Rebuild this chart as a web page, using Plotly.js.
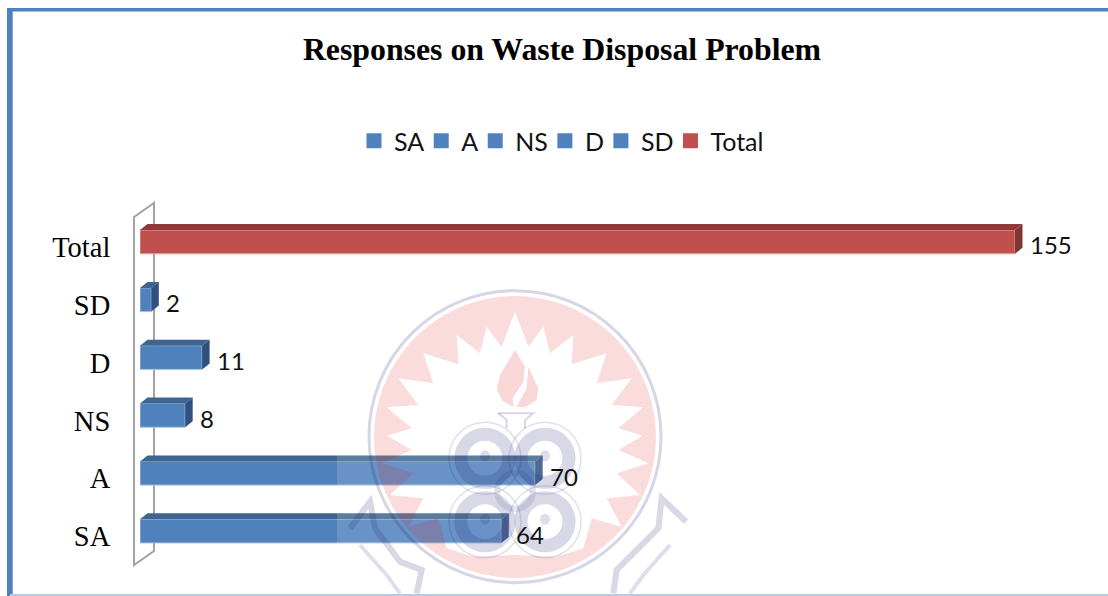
<!DOCTYPE html>
<html>
<head>
<meta charset="utf-8">
<script src="https://cdn.plot.ly/plotly-3.0.1.min.js"></script>
<style>html,body{margin:0;padding:0;background:#fff;overflow:hidden}#chart{width:1108px;height:596px}</style>
</head>
<body>
<div id="chart"></div>
<script>
// ---- data ----
const categories = ['SA', 'A', 'NS', 'D', 'SD', 'Total'];
const values = [64, 70, 8, 11, 2, 155];
const frontColors = ['#4F81BD', '#4F81BD', '#4F81BD', '#4F81BD', '#4F81BD', '#C0504D'];
const topColors = ['#3E658F', '#3E658F', '#3E658F', '#3E658F', '#3E658F', '#8F3A38'];
const sideColors = ['#2F5080', '#2F5080', '#2F5080', '#2F5080', '#2F5080', '#7F3533'];
const edgeColors = ['#A9C3E3', '#A9C3E3', '#A9C3E3', '#A9C3E3', '#A9C3E3', '#E0A5A3'];

// ---- geometry ----
const W = 1108, H = 596;
const M = {l: 140, r: 0, t: 213, b: 36};
const PW = W - M.l - M.r, PH = H - M.t - M.b;
const pxPerUnit = 875 / 155;
const xMax = PW / pxPerUnit;
const pxPerCat = PH / categories.length;
const barWidth = 0.41;
const depthX = 7.5 / pxPerUnit, depthY = 6 / pxPerCat;

const traces = [];
// legend keys: same names and colours, drawn only in the legend
categories.forEach((c, i) => {
  traces.push({
    type: 'bar', orientation: 'h', name: c, x: [null], y: [null], showlegend: true,
    marker: {color: frontColors[i], line: {color: frontColors[i], width: 3}},
    hoverinfo: 'skip'
  });
});
categories.forEach((c, i) => {
  traces.push({
    type: 'bar', orientation: 'h', name: c, x: [values[i]], y: [i], width: barWidth, showlegend: false,
    marker: {color: frontColors[i], line: {color: edgeColors[i], width: 1}},
    hoverinfo: 'skip'
  });
});
categories.forEach((c, i) => {
  const v = values[i], t = i + barWidth / 2, b = i - barWidth / 2;
  traces.push({
    type: 'scatter', mode: 'lines', showlegend: false, hoverinfo: 'skip', fill: 'toself',
    x: [0, v, v + depthX, depthX, 0], y: [t, t, t + depthY, t + depthY, t],
    fillcolor: topColors[i], line: {width: 0}
  });
  traces.push({
    type: 'scatter', mode: 'lines', showlegend: false, hoverinfo: 'skip', fill: 'toself',
    x: [v, v + depthX, v + depthX, v, v], y: [t, t + depthY, b + depthY, b, t],
    fillcolor: sideColors[i], line: {width: 0}
  });
});

const annotations = categories.map((c, i) => ({
  x: values[i], y: i, xref: 'x', yref: 'y', text: String(values[i]), showarrow: false,
  xanchor: 'left', yanchor: 'middle', xshift: 13, yshift: -3,
  font: {family: 'Lato, sans-serif', size: 24, color: '#111'}
}));

// ---- page pixels to paper fractions ----
const px = x => (x - M.l) / PW;
const py = y => (H - M.b - y) / PH;
const path = pts => pts.map((p, i) => (i ? 'L' : 'M') + px(p[0]).toFixed(5) + ',' + py(p[1]).toFixed(5)).join(' ') + ' Z';
const open = pts => pts.map((p, i) => (i ? 'L' : 'M') + px(p[0]).toFixed(5) + ',' + py(p[1]).toFixed(5)).join(' ');
const wm = p => [350 + p[0] / 3, 285 + p[1] / 3];

// ---- chart wall and page frame ----
const GREY = '#A3A3A3';
const shapes = [
  {type: 'path', xref: 'paper', yref: 'paper', layer: 'below', path: path([[134, 217], [154, 203], [154, 551], [134, 565]]),
   line: {color: GREY, width: 2}, fillcolor: 'rgba(0,0,0,0)'},
  {type: 'rect', xref: 'paper', yref: 'paper', layer: 'above', x0: px(7), x1: px(12.7), y0: py(8), y1: py(596), fillcolor: '#4F81BD', line: {width: 0}},
  {type: 'rect', xref: 'paper', yref: 'paper', layer: 'above', x0: px(7), x1: px(1108), y0: py(8), y1: py(11.5), fillcolor: '#4F81BD', line: {width: 0}},
  {type: 'line', xref: 'paper', yref: 'paper', layer: 'above', x0: px(10), x1: px(1108), y0: py(595), y1: py(595), line: {color: '#B5CBE6', width: 2}}
];

// ---- translucent crest over the chart ----
const RED = 'rgb(226,5,5)', INK = 'rgb(20,20,110)';
shapes.push({type: 'rect', xref: 'paper', yref: 'paper', layer: 'above', x0: px(337), x1: px(690), y0: py(285), y1: py(594),
  fillcolor: '#fff', opacity: 0.15, line: {width: 0}});
const cx = 515, cy = 437, rDisc = 141;
const disc = [];
for (let a = 0; a < 360; a += 5) disc.push([cx + rDisc * Math.cos(a * Math.PI / 180), cy + rDisc * Math.sin(a * Math.PI / 180)]);
const starRight = [[495, 80], [535, 185], [580, 125], [600, 205], [670, 150], [665, 238], [770, 205], [740, 295], [845, 280], [785, 360],
  [880, 367], [805, 430], [878, 452], [805, 495], [895, 535], [800, 565], [870, 630], [770, 640], [815, 725], [725, 700], [700, 790], [620, 815], [495, 810]];
const starLeft = starRight.slice(1, -1).reverse().map(p => [990 - p[0], p[1]]);
const star = starRight.concat(starLeft).map(wm);
shapes.push({type: 'path', xref: 'paper', yref: 'paper', layer: 'above', fillrule: 'evenodd',
  path: path(disc) + ' ' + path(star), fillcolor: RED, opacity: 0.14, line: {width: 0}});
// flame
[[[495, 195], [450, 270], [440, 315], [460, 350], [490, 365], [488, 340], [520, 290], [525, 245]],
 [[535, 245], [565, 310], [560, 345], [525, 367], [500, 365], [530, 310]]].forEach(f => {
  shapes.push({type: 'path', xref: 'paper', yref: 'paper', layer: 'above', path: path(f.map(wm)), fillcolor: RED, opacity: 0.16, line: {width: 0}});
});
const inkLine = (pts, w, o) => shapes.push({type: 'path', xref: 'paper', yref: 'paper', layer: 'above', path: open(pts.map(wm)),
  line: {color: INK, width: w}, opacity: o, fillcolor: 'rgba(0,0,0,0)'});
const inkRing = (zx, zy, r, w, o) => {
  const c = wm([zx, zy]);
  shapes.push({type: 'circle', xref: 'paper', yref: 'paper', layer: 'above', x0: px(c[0] - r), x1: px(c[0] + r), y0: py(c[1] - r), y1: py(c[1] + r),
    line: {color: INK, width: w}, opacity: o, fillcolor: 'rgba(0,0,0,0)'});
};
inkRing(495, 455, 146, 3, 0.17);
[[405, 520], [585, 520], [405, 710], [585, 710]].forEach(c => {
  inkRing(c[0], c[1], 24, 13, 0.16);
  inkRing(c[0], c[1], 36, 1.5, 0.12);
  const k = wm(c);
  shapes.push({type: 'circle', xref: 'paper', yref: 'paper', layer: 'above', x0: px(k[0] - 5), x1: px(k[0] + 5), y0: py(k[1] - 8), y1: py(k[1] + 3), fillcolor: INK, opacity: 0.14, line: {width: 0}});
});
inkRing(495, 618, 18, 6, 0.1);
inkLine([[445, 385], [550, 385], [525, 405], [525, 430]], 2, 0.16);
inkLine([[445, 385], [470, 405], [470, 430]], 2, 0.16);
inkLine([[0, 730], [60, 650], [75, 730], [150, 830], [215, 855], [200, 925]], 6, 0.16);
inkLine([[1008, 710], [935, 640], [925, 730], [800, 855], [790, 925]], 6, 0.16);
inkLine([[30, 780], [110, 870], [150, 925]], 4, 0.13);
inkLine([[960, 780], [880, 870], [840, 925]], 4, 0.13);

const layout = {
  width: W, height: H, margin: M, paper_bgcolor: '#fff', plot_bgcolor: 'rgba(0,0,0,0)',
  barmode: 'overlay', hovermode: false, showlegend: true,
  title: {text: 'Responses on Waste Disposal Problem', xref: 'container', yref: 'container', x: 562 / W, y: 1 - 49 / H,
    xanchor: 'center', yanchor: 'middle', font: {family: '"Liberation Serif", serif', size: 31.8, color: '#000', weight: 700}},
  legend: {orientation: 'h', x: px(362), xanchor: 'left', y: py(141), yanchor: 'middle', itemwidth: 30, indentation: -8,
    font: {family: 'Lato, sans-serif', size: 25, color: '#111'}, bgcolor: 'rgba(0,0,0,0)'},
  xaxis: {range: [0, xMax], visible: false, fixedrange: true},
  yaxis: {range: [-0.5, categories.length - 0.5], fixedrange: true, showgrid: false, zeroline: false, showline: false,
    tickmode: 'array', tickvals: categories.map((c, i) => i - 0.09), ticktext: categories,
    ticks: 'outside', ticklen: 23, tickcolor: 'rgba(0,0,0,0)',
    tickfont: {family: '"Liberation Serif", serif', size: 28.5, color: '#000'}},
  shapes: shapes, annotations: annotations
};
Plotly.newPlot('chart', traces, layout, {displayModeBar: false, staticPlot: true});
</script>
</body>
</html>
